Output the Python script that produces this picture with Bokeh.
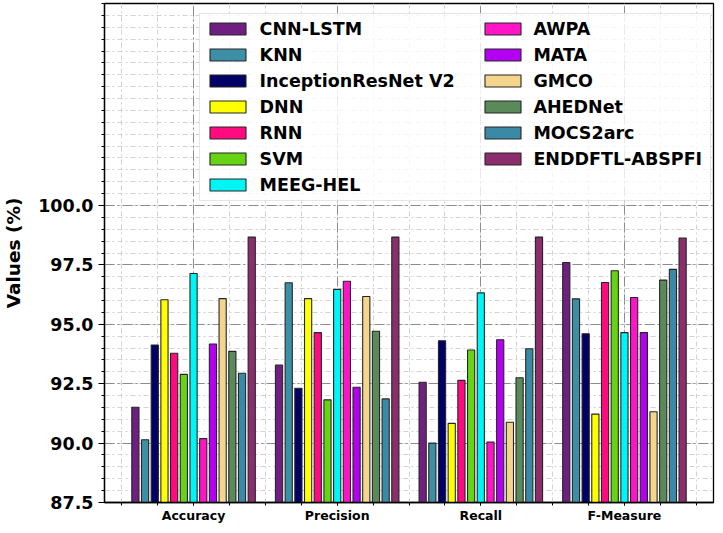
import numpy as np
from bokeh.plotting import figure
from bokeh.models import (FixedTicker, PrintfTickFormatter, Legend, LegendItem,
                          Range1d)
from bokeh.embed import file_html
from bokeh.resources import INLINE

# ---------------- data ----------------
metrics = ["Accuracy", "Precision", "Recall", "F-Measure"]

model_names = ["CNN-LSTM", "KNN", "InceptionResNet V2", "DNN", "RNN", "SVM",
               "MEEG-HEL", "AWPA", "MATA", "GMCO", "AHEDNet", "MOCS2arc",
               "ENDDFTL-ABSPFI"]

cnn_lstm = [91.51, 93.28, 92.56, 97.60]
knn = [90.14, 96.75, 90.00, 96.07]
inception_resnet_v2 = [94.13, 92.31, 94.31, 94.60]
dnn = [96.03, 96.08, 90.83, 91.22]
rnn = [93.78, 94.65, 92.64, 96.76]
svm = [92.89, 91.82, 93.92, 97.25]
meeg_hel = [97.14, 96.47, 96.32, 94.65]
awpa = [90.19, 96.81, 90.04, 96.13]
mata = [94.17, 92.35, 94.35, 94.65]
gmco = [96.08, 96.17, 90.88, 91.32]
ahednet = [93.86, 94.71, 92.75, 96.86]
mocs2arc = [92.94, 91.86, 93.97, 97.31]
enddftl_abspfi = [98.67, 98.67, 98.67, 98.63]

series = [cnn_lstm, knn, inception_resnet_v2, dnn, rnn, svm, meeg_hel, awpa,
          mata, gmco, ahednet, mocs2arc, enddftl_abspfi]

colors = ["#6e1f80", "#3d8fa6", "#000066", "#ffff00", "#ff0a7f", "#66d414",
          "#00f5f5", "#ff14c8", "#b400f0", "#f5d58c", "#5a8a5a", "#3a8aa5",
          "#8c2d6e"]

y_major_ticks = [87.5, 90.0, 92.5, 95.0, 97.5, 100.0]

# ---------------- figure ----------------
FONT = "DejaVu Sans"
p = figure(width=715, height=525, output_backend="svg", toolbar_location=None,
           x_range=Range1d(-0.62, 3.62), y_range=Range1d(87.5, 108.5),
           min_border_left=104, min_border_right=2, min_border_top=3,
           min_border_bottom=21)
p.background_fill_color = "white"
p.border_fill_color = "white"
p.outline_line_color = "black"
p.outline_line_width = 1.3

bar_w = 0.05
step = 0.0675
x_base = np.arange(len(metrics))
renderers = []
for i, (vals, col) in enumerate(zip(series, colors)):
    xs = x_base + (i - (len(series) - 1) / 2) * step
    r = p.vbar(x=xs, top=vals, bottom=0, width=bar_w, fill_color=col,
               line_color="#262626", line_width=1.1)
    renderers.append(r)

# axes
p.xaxis.ticker = FixedTicker(ticks=list(range(len(metrics))),
                             minor_ticks=list(np.arange(-0.5, 3.51, 0.25)))
p.xaxis.major_label_overrides = {i: m for i, m in enumerate(metrics)}
p.xaxis.major_label_text_font = FONT
p.xaxis.major_label_text_font_style = "bold"
p.xaxis.major_label_text_font_size = "12.5px"
p.xaxis.major_label_text_color = "black"
p.xaxis.major_label_standoff = 2
p.xaxis.major_tick_out = 3
p.xaxis.major_tick_in = 0
p.xaxis.minor_tick_out = 3
p.xaxis.minor_tick_in = 0

p.yaxis.ticker = FixedTicker(ticks=y_major_ticks,
                             minor_ticks=list(np.arange(87.5, 108.51, 0.5)))
p.yaxis.formatter = PrintfTickFormatter(format="%.1f")
p.yaxis.axis_label = "Values (%)"
p.yaxis.axis_label_text_font = FONT
p.yaxis.axis_label_text_font_style = "bold"
p.yaxis.axis_label_text_font_size = "18.5px"
p.yaxis.axis_label_text_color = "black"
p.yaxis.axis_label_standoff = 11
p.yaxis.major_label_text_font = FONT
p.yaxis.major_label_text_font_style = "bold"
p.yaxis.major_label_text_font_size = "17.5px"
p.yaxis.major_label_text_color = "black"
p.yaxis.major_label_standoff = 5
p.yaxis.major_tick_out = 6
p.yaxis.major_tick_in = 0
p.yaxis.minor_tick_out = 3
p.yaxis.minor_tick_in = 0
for ax in (p.xaxis, p.yaxis):
    ax.axis_line_color = "black"
    ax.axis_line_width = 1.3
    ax.major_tick_line_color = "black"
    ax.minor_tick_line_color = "black"

# grids
for g in (p.xgrid, p.ygrid):
    g.grid_line_color = "#8c8c8c"
    g.grid_line_width = 1
    g.grid_line_dash = "10 3 2 3"
    g.minor_grid_line_color = "#d2d2d2"
    g.minor_grid_line_width = 1
    g.minor_grid_line_dash = "5 3 2 3"

common = dict(orientation="vertical", margin=0, spacing=6,
              glyph_width=45, glyph_height=15, label_height=15,
              label_text_font=FONT,
              label_text_font_style="bold", label_text_font_size="17.5px",
              label_text_color="black")
# first column carries the shared frame of the two-column legend
leg1 = Legend(items=[LegendItem(label=model_names[i], renderers=[renderers[i]])
                     for i in range(7)], location=(94.6, 301.2),
              padding=5, label_standoff=10, label_width=445,
              background_fill_color="white", background_fill_alpha=0.8,
              border_line_color="#cccccc", border_line_width=1, **common)
leg2 = Legend(items=[LegendItem(label=model_names[i], renderers=[renderers[i]])
                     for i in range(7, 13)], location=(376.4, 333.4),
              padding=0, label_standoff=8, background_fill_alpha=0,
              border_line_alpha=0, **common)
p.add_layout(leg1)
p.add_layout(leg2)

open("out.html", "w").write(file_html(p, INLINE))
